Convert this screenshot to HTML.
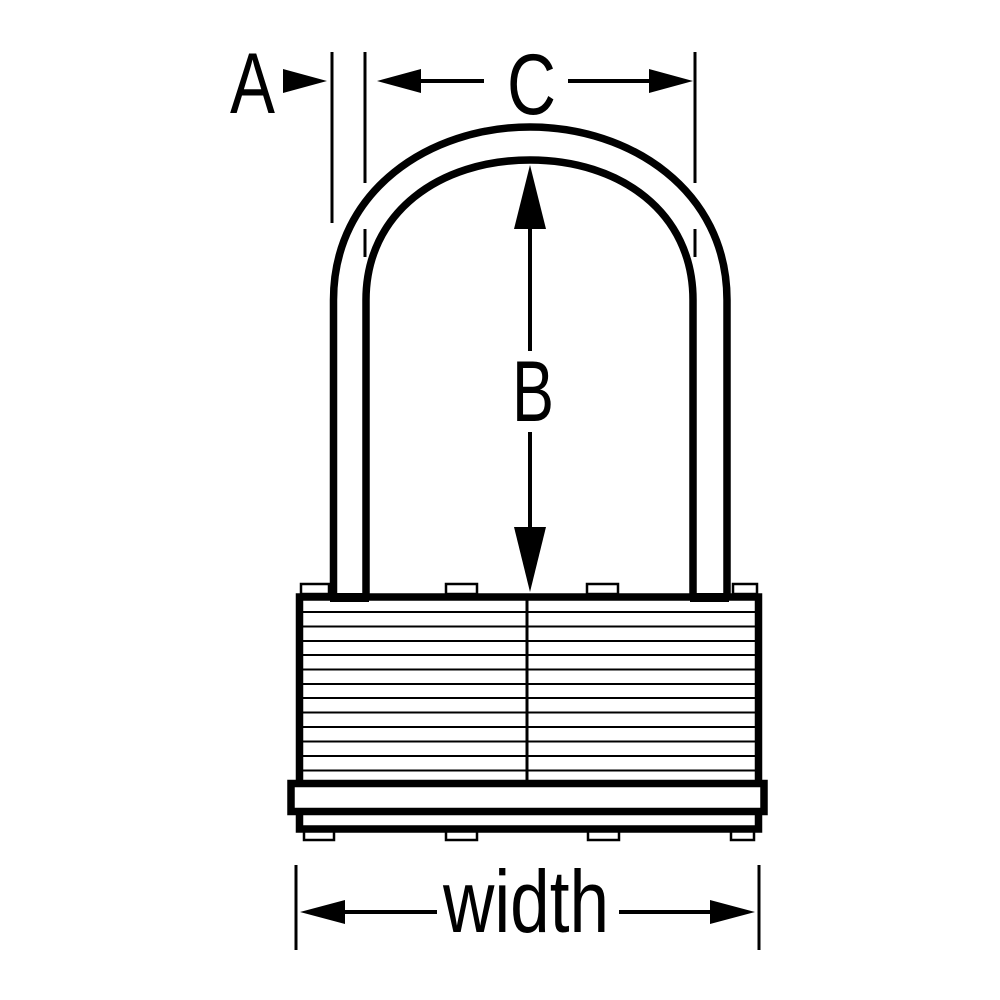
<!DOCTYPE html>
<html><head><style>html,body{margin:0;padding:0;background:#fff}svg{display:block}</style></head>
<body>
<svg width="1000" height="1000" viewBox="0 0 1000 1000" xmlns="http://www.w3.org/2000/svg" font-family="'Liberation Sans', sans-serif">
<rect width="1000" height="1000" fill="#fff"/>
<!-- shackle -->
<g fill="none" stroke="#000" stroke-width="7.5">
<path d="M333.5,602 L333.5,300 C333.5,190 430,127 530,127 C630,127 727,190 727,300 L727,602"/>
<path d="M366,602 L366,300 C366,212 440,160 530,160 C620,160 693,212 693,300 L693,602"/>
</g>
<!-- top tabs -->
<g fill="#fff" stroke="#000" stroke-width="2.5">
<rect x="301" y="584" width="28" height="10"/>
<rect x="446" y="584" width="31" height="10"/>
<rect x="587" y="584" width="31" height="10"/>
<rect x="733" y="584" width="24" height="10"/>
<rect x="304" y="829" width="30" height="11"/>
<rect x="446" y="829" width="31" height="11"/>
<rect x="588" y="829" width="31" height="11"/>
<rect x="731" y="829" width="23" height="11"/>
</g>
<!-- body -->
<rect x="299.5" y="597" width="459" height="232" fill="#fff" stroke="#000" stroke-width="7.5"/>
<g stroke="#000" stroke-width="2">
<line x1="303" y1="612" x2="755" y2="612"/>
<line x1="303" y1="626.5" x2="755" y2="626.5"/>
<line x1="303" y1="641" x2="755" y2="641"/>
<line x1="303" y1="655" x2="755" y2="655"/>
<line x1="303" y1="669.5" x2="755" y2="669.5"/>
<line x1="303" y1="684" x2="755" y2="684"/>
<line x1="303" y1="698" x2="755" y2="698"/>
<line x1="303" y1="712.5" x2="755" y2="712.5"/>
<line x1="303" y1="727" x2="755" y2="727"/>
<line x1="303" y1="741.5" x2="755" y2="741.5"/>
<line x1="303" y1="756" x2="755" y2="756"/>
<line x1="303" y1="770.5" x2="755" y2="770.5"/>
</g>
<line x1="527" y1="600" x2="527" y2="783" stroke="#000" stroke-width="3"/>
<rect x="291" y="783.5" width="473" height="28" fill="#fff" stroke="#000" stroke-width="7.5"/>
<!-- leg bottoms over body top -->
<rect x="330" y="593" width="39" height="9" fill="#000"/>
<rect x="690" y="593" width="39" height="9" fill="#000"/>
<!-- dimension ticks -->
<g stroke="#000" stroke-width="3">
<line x1="332" y1="52" x2="332" y2="223"/>
<line x1="365" y1="52" x2="365" y2="183"/>
<line x1="365" y1="229" x2="365" y2="257"/>
<line x1="695" y1="52" x2="695" y2="183"/>
<line x1="695" y1="229" x2="695" y2="257"/>
<line x1="296" y1="865" x2="296" y2="950"/>
<line x1="759" y1="865" x2="759" y2="950"/>
</g>
<g stroke="#000" stroke-width="4">
<line x1="420" y1="81" x2="484" y2="81"/>
<line x1="568" y1="81" x2="652" y2="81"/>
<line x1="530" y1="225" x2="530" y2="351"/>
<line x1="530" y1="432" x2="530" y2="530"/>
<line x1="340" y1="912" x2="437" y2="912"/>
<line x1="619" y1="912" x2="715" y2="912"/>
</g>
<g fill="#000">
<polygon points="327,81 283,69 283,93"/>
<polygon points="377,81 421,69 421,93"/>
<polygon points="693,81 649,69 649,93"/>
<polygon points="530,165 514,229 546,229"/>
<polygon points="530,592 514,527 546,527"/>
<polygon points="300,912 345,900 345,924"/>
<polygon points="755,912 710,900 710,924"/>
</g>
<g fill="#000">
<text x="230" y="113" font-size="86" textLength="45" lengthAdjust="spacingAndGlyphs">A</text>
<text x="507" y="114" font-size="86" textLength="49" lengthAdjust="spacingAndGlyphs">C</text>
<text x="512" y="421" font-size="86" textLength="42" lengthAdjust="spacingAndGlyphs">B</text>
<text x="443" y="932" font-size="88" textLength="166" lengthAdjust="spacingAndGlyphs">width</text>
</g>
</svg>
</body></html>
